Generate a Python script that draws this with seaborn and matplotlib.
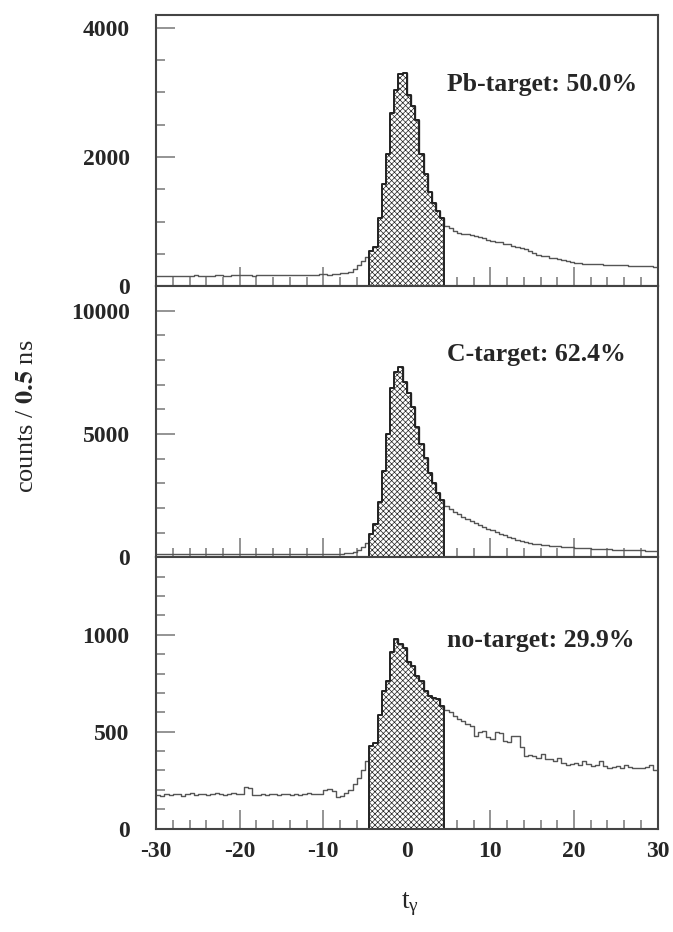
import numpy as np
import pandas as pd
import seaborn as sns
import matplotlib.pyplot as plt
from matplotlib.ticker import MultipleLocator

## binning of the time spectra (0.5 ns per bin)
t_lo, t_hi, t_bin = -30.0, 30.0, 0.5
win_lo, win_hi = -4.5, 4.5

## counts per bin: 51 bins left of window, 18 in window, 51 right
pb_left = [150, 155, 160, 150, 158, 162, 155, 160, 158, 165,
           160, 163, 158, 160, 165, 168, 162, 160, 170, 165,
           168, 172, 165, 160, 165, 170, 168, 175, 170, 168,
           172, 165, 170, 175, 178, 172, 175, 180, 178, 182,
           185, 180, 190, 195, 200, 210, 225, 260, 320, 390,
           450]
pb_win = [545, 600, 1060, 1575, 2050, 2680, 3040, 3280, 3300,
          2965, 2785, 2580, 2040, 1730, 1450, 1290, 1165, 1060]
pb_right = [930, 900, 860, 830, 810, 800, 790, 770, 760, 740,
            720, 700, 690, 680, 660, 650, 620, 610, 590, 570,
            540, 510, 480, 470, 460, 440, 430, 415, 400, 385,
            370, 360, 355, 350, 345, 340, 340, 335, 330, 330,
            325, 325, 320, 320, 315, 315, 310, 310, 305, 305,
            300]

c_left = [130, 135, 132, 138, 135, 130, 136, 134, 138, 135,
          132, 136, 138, 135, 134, 140, 137, 135, 138, 140,
          138, 136, 140, 142, 138, 140, 137, 142, 140, 138,
          140, 143, 141, 138, 142, 145, 143, 146, 144, 148,
          150, 148, 152, 155, 155, 165, 185, 220, 290, 410,
          600]
c_win = [960, 1370, 2260, 3490, 5000, 6850, 7535, 7710, 7125,
         6645, 6100, 5275, 4590, 4040, 3425, 3015, 2600, 2330]
c_right = [2100, 1970, 1850, 1740, 1640, 1550, 1460, 1380, 1300, 1230,
           1160, 1090, 1020, 950, 890, 830, 770, 720, 670, 630,
           595, 560, 535, 510, 490, 470, 455, 440, 425, 412,
           400, 390, 380, 370, 360, 350, 340, 332, 325, 318,
           312, 306, 300, 295, 290, 285, 282, 278, 275, 272,
           270]

no_left = [175, 170, 178, 172, 180, 176, 170, 178, 182, 175,
           178, 180, 172, 176, 182, 178, 175, 180, 185, 178,
           180, 215, 210, 172, 175, 178, 172, 176, 180, 175,
           178, 176, 172, 180, 175, 178, 182, 176, 180, 178,
           200, 205, 195, 165, 170, 185, 200, 230, 260, 300,
           350]
no_win = [424, 441, 588, 710, 762, 910, 979, 953, 930,
          858, 840, 788, 762, 710, 684, 675, 667, 632]
no_right = [610, 600, 580, 565, 555, 540, 530, 480, 500, 505,
            470, 460, 500, 495, 450, 445, 480, 478, 420, 375,
            380, 374, 365, 383, 360, 357, 350, 365, 340, 330,
            335, 340, 330, 348, 335, 322, 330, 348, 325, 313,
            318, 322, 315, 330, 320, 313, 310, 313, 318, 330,
            304]

labels = ["Pb-target: 50.0%", "C-target: 62.4%", "no-target: 29.9%"]
ylims = [4200, 11000, 1400]
ymajor = [2000, 5000, 500]
yminor = [500, 1000, 100]

## build data frame
edges = np.arange(t_lo, t_hi + t_bin / 2, t_bin)
centers = edges[:-1] + t_bin / 2
series = [pb_left + pb_win + pb_right,
          c_left + c_win + c_right,
          no_left + no_win + no_right]
df = pd.concat([pd.DataFrame({"t": centers, "counts": s, "panel": i})
                for i, s in enumerate(series)])

## plot figure
sns.set_style("white")
plt.rcParams["font.family"] = ["Liberation Serif", "DejaVu Serif"]
plt.rcParams["mathtext.fontset"] = "stix"
plt.rcParams["axes.unicode_minus"] = False
plt.rcParams["hatch.linewidth"] = 0.5

fig, axes = plt.subplots(3, 1, sharex=True, figsize=(6.73, 9.32), dpi=100)
plt.subplots_adjust(left=0.232, right=0.977, top=0.984, bottom=0.111, hspace=0)

all_bins = list(edges)
win_bins = [e for e in edges if win_lo - 1e-9 <= e <= win_hi + 1e-9]
for i, ax in enumerate(axes):
    d = df[df.panel == i]
    sns.histplot(data=d, x="t", weights="counts", bins=all_bins, element="step",
                 fill=False, color="#555555", linewidth=1.0, ax=ax, zorder=2)
    dw = d[(d.t > win_lo) & (d.t < win_hi)]
    sns.histplot(data=dw, x="t", weights="counts", bins=win_bins, element="step",
                 fill=True, facecolor="white", edgecolor="#222222", hatch="xxxxxx",
                 linewidth=1.4, alpha=1, ax=ax, zorder=3)
    ax.set_xlim(t_lo, t_hi)
    ax.set_ylim(0, ylims[i])
    ax.set_xlabel("")
    ax.set_ylabel("")
    ax.yaxis.set_major_locator(MultipleLocator(ymajor[i]))
    ax.yaxis.set_minor_locator(MultipleLocator(yminor[i]))
    ax.xaxis.set_major_locator(MultipleLocator(10))
    ax.xaxis.set_minor_locator(MultipleLocator(2))
    ax.tick_params(which="both", direction="in", color="#777777", width=1.1,
                   left=True, bottom=True, top=False, right=False, zorder=4)
    ax.tick_params(which="major", length=14)
    ax.tick_params(which="minor", length=6.5)
    ax.tick_params(axis="y", which="major", pad=19)
    ax.tick_params(axis="x", which="major", pad=9)
    for lab in ax.get_yticklabels() + ax.get_xticklabels():
        lab.set_fontsize(17)
        lab.set_fontweight("bold")
    for sp in ax.spines.values():
        sp.set_color("#444444")
        sp.set_linewidth(1.5)
        sp.set_zorder(5)
    ax.text(0.581, [0.743, 0.748, 0.694][i], labels[i], transform=ax.transAxes,
            ha="left", va="center", fontsize=18.5, fontweight="bold", zorder=6)

fig.text(0.040, 0.553, r"counts / $\mathbf{0.5}$ ns", rotation=90, ha="center",
         va="center", fontsize=19)
fig.text(0.609, 0.030, r"$\mathregular{t_{\gamma}}$", ha="center", va="center",
         fontsize=20)

plt.savefig("out.png", dpi=100)
